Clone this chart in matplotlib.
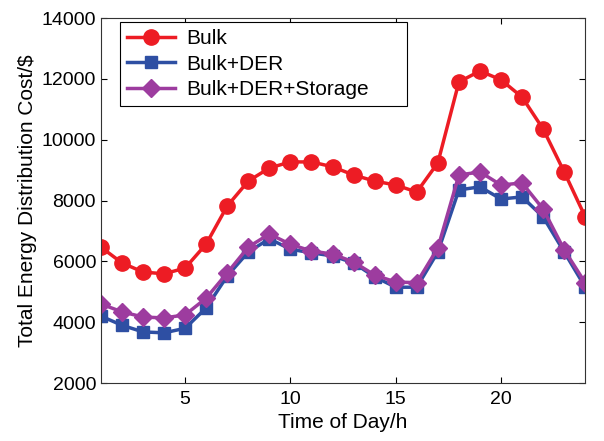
import matplotlib
matplotlib.use("Agg")
import matplotlib.pyplot as plt

plt.rcParams['font.family'] = ['Liberation Sans', 'DejaVu Sans']

hours = list(range(1, 25))
bulk = [6470, 5950, 5650, 5590, 5780, 6570, 7820, 8640, 9070, 9270, 9270, 9110,
        8840, 8640, 8510, 8280, 9240, 11900, 12260, 11970, 11400, 10350, 8940, 7460]
bulk_der = [4200, 3900, 3680, 3650, 3800, 4470, 5520, 6310, 6740, 6400, 6280, 6180,
            5950, 5490, 5150, 5150, 6310, 8350, 8450, 8050, 8120, 7460, 6310, 5150]
bulk_der_sto = [4600, 4340, 4170, 4140, 4240, 4790, 5620, 6470, 6900, 6560, 6340, 6240,
                5980, 5550, 5320, 5300, 6440, 8840, 8940, 8510, 8580, 7720, 6380, 5290]

fig = plt.figure(figsize=(6.04, 4.41), dpi=100)
ax = fig.add_axes([0.167, 0.1315, 0.802, 0.8275])

ax.plot(hours, bulk, '-o', color='#ED1C24', lw=2.5, ms=11, label='Bulk')
ax.plot(hours, bulk_der, '-s', color='#2E4FA3', lw=2.5, ms=9, label='Bulk+DER')
ax.plot(hours, bulk_der_sto, '-D', color='#9D3C9F', lw=2.5, ms=9, label='Bulk+DER+Storage')

ax.set_xlim(1, 24)
ax.set_ylim(2000, 14000)
ax.set_xticks([5, 10, 15, 20])
ax.set_yticks(range(2000, 14001, 2000))
ax.tick_params(direction='in', top=True, right=True, labelsize=14, length=4, width=0.8)
ax.tick_params(axis='x', pad=6)
for s in ax.spines.values():
    s.set_linewidth(0.8)
    s.set_color('#333333')
ax.set_xlabel('Time of Day/h', fontsize=15, labelpad=3)
ax.set_ylabel('Total Energy Distribution Cost/$', fontsize=15, labelpad=3)

leg = ax.legend(loc='upper left', bbox_to_anchor=(0.039, 0.0, 0.593, 0.989),
                mode='expand', borderaxespad=0,
                fontsize=15, fancybox=False, edgecolor='black', framealpha=1,
                handlelength=2.3, borderpad=0.35, labelspacing=0.3, handletextpad=0.55)
leg.get_frame().set_linewidth(0.8)

fig.savefig('out.png', dpi=100)
